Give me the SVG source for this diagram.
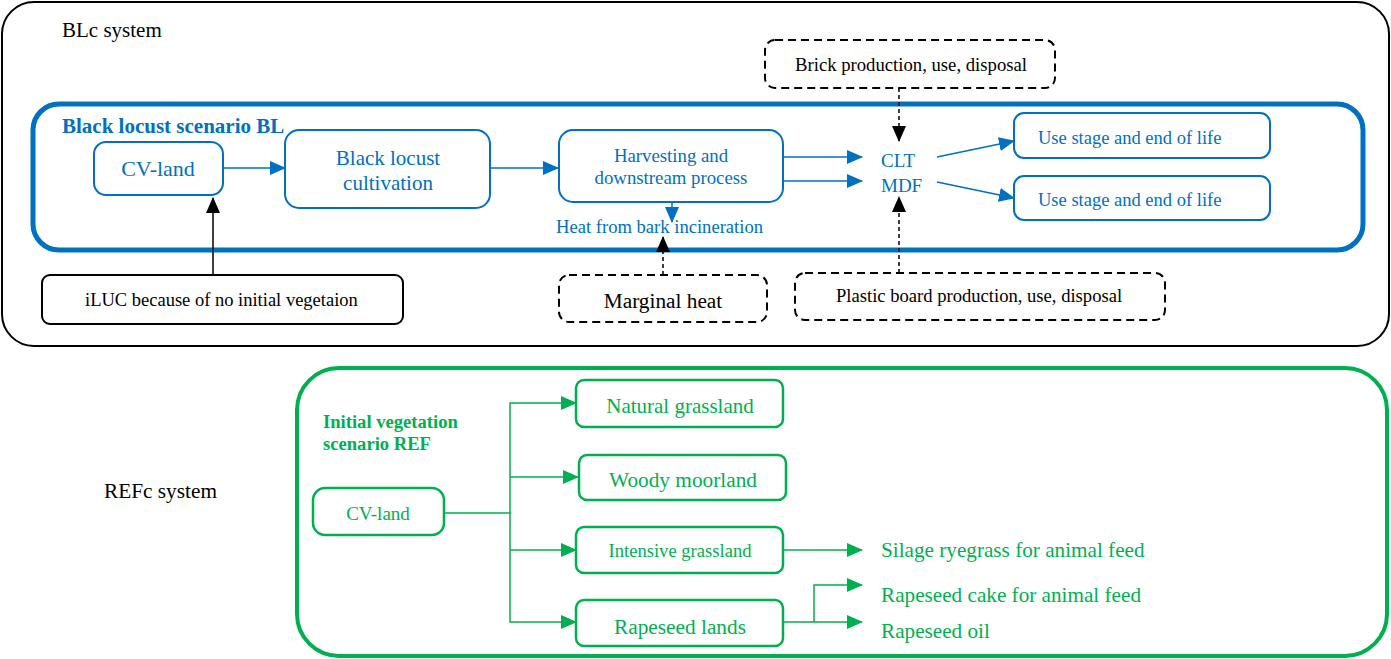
<svg xmlns="http://www.w3.org/2000/svg" width="1391" height="659" viewBox="0 0 1391 659" font-family="'Liberation Serif', 'DejaVu Serif', 'Times New Roman', serif">
<style>
.b{fill:#0070C0}
.g{fill:#00B050}
.k{fill:#000}
.bb{fill:#fff;stroke:#0070C0;stroke-width:2}
.gb{fill:#fff;stroke:#00B050;stroke-width:2.5}
.db{fill:#fff;stroke:#000;stroke-width:2;stroke-dasharray:8 5}
.bl{stroke:#0070C0;stroke-width:1.5;fill:none}
.gl{stroke:#00B050;stroke-width:1.5;fill:none}
.kl{stroke:#000;stroke-width:1.5;fill:none}
.kd{stroke:#000;stroke-width:1.5;fill:none;stroke-dasharray:4 3}
</style>
<defs>
<marker id="ab" markerUnits="userSpaceOnUse" markerWidth="16" markerHeight="14" refX="15" refY="7" orient="auto"><path d="M0,0 L16,7 L0,14 Z" fill="#0070C0"/></marker>
<marker id="ag" markerUnits="userSpaceOnUse" markerWidth="16" markerHeight="14" refX="15" refY="7" orient="auto"><path d="M0,0 L16,7 L0,14 Z" fill="#00B050"/></marker>
<marker id="ak" markerUnits="userSpaceOnUse" markerWidth="16" markerHeight="14" refX="15" refY="7" orient="auto"><path d="M0,0 L16,7 L0,14 Z" fill="#000"/></marker>
</defs>

<g id="blc-system">
<rect x="2" y="2" width="1387" height="344" rx="32" fill="#fff" stroke="#000" stroke-width="2"/>
<text x="62" y="37" font-size="21" class="k">BLc system</text>
</g>
<g id="bl-scenario">
<rect x="33" y="104" width="1330" height="146" rx="26" fill="none" stroke="#0070C0" stroke-width="5"/>
<text x="62" y="133" font-size="21" font-weight="bold" class="b">Black locust scenario BL</text>
</g>

<g id="connectors">
<line x1="223" y1="168" x2="285" y2="168" class="bl" marker-end="url(#ab)"/>
<line x1="490" y1="168" x2="558" y2="168" class="bl" marker-end="url(#ab)"/>
<line x1="783" y1="157" x2="862" y2="157" class="bl" marker-end="url(#ab)"/>
<line x1="783" y1="181" x2="862" y2="181" class="bl" marker-end="url(#ab)"/>
<line x1="937" y1="157" x2="1014" y2="141" class="bl" marker-end="url(#ab)"/>
<line x1="937" y1="182" x2="1014" y2="198" class="bl" marker-end="url(#ab)"/>
<line x1="672" y1="202" x2="672" y2="222" class="bl" marker-end="url(#ab)"/>
<line x1="213" y1="276" x2="213" y2="198" class="kl" marker-end="url(#ak)"/>
<line x1="663" y1="275" x2="663" y2="237" class="kd" marker-end="url(#ak)"/>
<line x1="899" y1="88" x2="899" y2="141" class="kd" marker-end="url(#ak)"/>
<line x1="899" y1="273" x2="899" y2="197" class="kd" marker-end="url(#ak)"/>
<polyline points="444,513 510,513 510,403 576,403" class="gl" marker-end="url(#ag)"/>
<polyline points="510,477 578,477" class="gl" marker-end="url(#ag)"/>
<polyline points="510,513 510,622 576,622" class="gl" marker-end="url(#ag)"/>
<polyline points="510,550 576,550" class="gl" marker-end="url(#ag)"/>
<line x1="783" y1="550" x2="862" y2="550" class="gl" marker-end="url(#ag)"/>
<line x1="783" y1="622" x2="862" y2="622" class="gl" marker-end="url(#ag)"/>
<polyline points="814,622 814,585 862,585" class="gl" marker-end="url(#ag)"/>
</g>

<g id="cv-land-bl">
<rect x="94" y="142" width="129" height="53" rx="12" class="bb"/>
<text x="158" y="176" font-size="22" text-anchor="middle" class="b">CV-land</text>
</g>
<g id="black-locust-cultivation">
<rect x="285" y="130" width="205" height="78" rx="14" class="bb"/>
<text x="388" y="165" font-size="21" text-anchor="middle" class="b">Black locust</text>
<text x="388" y="190" font-size="21" text-anchor="middle" class="b">cultivation</text>
</g>
<g id="harvesting">
<rect x="559" y="130" width="224" height="72" rx="14" class="bb"/>
<text x="671" y="162" font-size="18.8" text-anchor="middle" class="b">Harvesting and</text>
<text x="671" y="184" font-size="18.8" text-anchor="middle" class="b">downstream process</text>
</g>
<g id="heat-bark">
<text x="556" y="233" font-size="18.6" class="b">Heat from bark incineration</text>
</g>
<g id="clt-mdf">
<text x="881" y="167" font-size="19" class="b">CLT</text>
<text x="881" y="192" font-size="19" class="b">MDF</text>
</g>
<g id="use-stage-1">
<rect x="1014" y="113" width="256" height="45" rx="10" class="bb"/>
<text x="1038" y="144" font-size="18.5" class="b">Use stage and end of life</text>
</g>
<g id="use-stage-2">
<rect x="1014" y="176" width="256" height="44" rx="10" class="bb"/>
<text x="1038" y="206" font-size="18.5" class="b">Use stage and end of life</text>
</g>
<g id="brick">
<rect x="765" y="40" width="290" height="48" rx="10" class="db"/>
<text x="795" y="71" font-size="18.7" class="k">Brick production, use, disposal</text>
</g>
<g id="marginal-heat">
<rect x="559" y="275" width="208" height="47" rx="10" class="db"/>
<text x="663" y="308" font-size="21.3" text-anchor="middle" class="k">Marginal heat</text>
</g>
<g id="plastic-board">
<rect x="795" y="273" width="370" height="47" rx="10" class="db"/>
<text x="836" y="302" font-size="18.6" class="k">Plastic board production, use, disposal</text>
</g>
<g id="iluc">
<rect x="42" y="275" width="361" height="49" rx="8" fill="#fff" stroke="#000" stroke-width="2"/>
<text x="85" y="306" font-size="18.5" class="k">iLUC because of no initial vegetaion</text>
</g>

<g id="refc-system">
<text x="104" y="498" font-size="21.3" class="k">REFc system</text>
<rect x="297" y="368" width="1090" height="288" rx="42" fill="none" stroke="#00B050" stroke-width="4"/>
<text x="323" y="428" font-size="18.6" font-weight="bold" class="g">Initial vegetation</text>
<text x="323" y="450" font-size="18.6" font-weight="bold" class="g">scenario REF</text>
</g>
<g id="cv-land-ref">
<rect x="313" y="488" width="131" height="47" rx="12" class="gb"/>
<text x="378" y="520" font-size="19" text-anchor="middle" class="g">CV-land</text>
</g>
<g id="natural-grassland">
<rect x="576" y="380" width="207" height="47" rx="8" class="gb"/>
<text x="680" y="413" font-size="21" text-anchor="middle" class="g">Natural grassland</text>
</g>
<g id="woody-moorland">
<rect x="579" y="455" width="207" height="45" rx="8" class="gb"/>
<text x="683" y="487" font-size="21.3" text-anchor="middle" class="g">Woody moorland</text>
</g>
<g id="intensive-grassland">
<rect x="576" y="527" width="207" height="46" rx="8" class="gb"/>
<text x="680" y="557" font-size="18.6" text-anchor="middle" class="g">Intensive grassland</text>
</g>
<g id="rapeseed-lands">
<rect x="576" y="600" width="207" height="46" rx="8" class="gb"/>
<text x="680" y="634" font-size="21.3" text-anchor="middle" class="g">Rapeseed lands</text>
</g>
<g id="silage">
<text x="881" y="557" font-size="21.2" class="g">Silage ryegrass for animal feed</text>
</g>
<g id="rapeseed-cake">
<text x="881" y="602" font-size="21.2" class="g">Rapeseed cake for animal feed</text>
</g>
<g id="rapeseed-oil">
<text x="881" y="638" font-size="21.2" class="g">Rapeseed oil</text>
</g>
</svg>
